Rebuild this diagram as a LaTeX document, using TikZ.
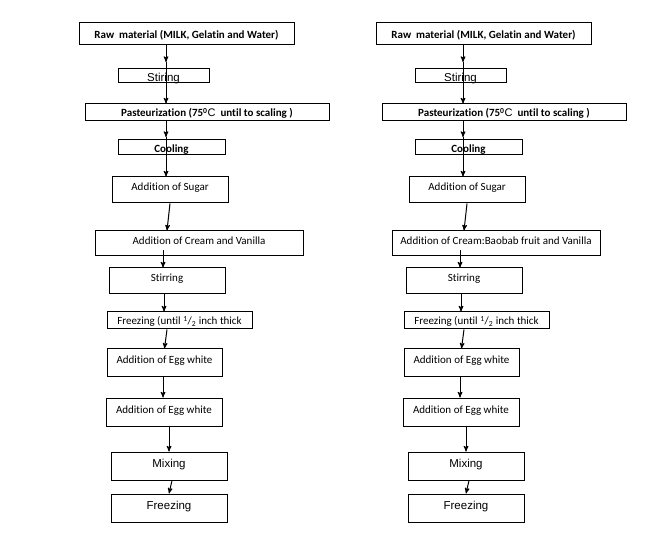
\documentclass[tikz,border=0pt]{standalone}
\usepackage{fontspec}
\setmainfont{Carlito}[Ligatures=NoCommon]
\newfontfamily\arialfont{Liberation Sans}
\usetikzlibrary{arrows}

\begin{document}
\begin{tikzpicture}[
    x = 1pt,
    y = -1pt,
    line width = 1pt,
    >=stealth',
    stepbox/.style = {
      draw,
      rectangle,
      inner sep = 0pt,
      text height = 8pt,
      text depth = 6pt,
      font = \fontsize{11}{13}\selectfont
    },
    bandbox/.style = {stepbox, text height = 9pt, text depth = 0pt},
    lowbox/.style = {stepbox, text height = 11pt, text depth = 0pt},
    sans/.style = {font = \arialfont\fontsize{11.5}{13}\selectfont}
  ]
  \useasboundingbox (0,0) rectangle (669,534);

  \foreach \c/\dx/\creamtext in {l/0/{Addition of Cream and Vanilla},
                                 r/297/{Addition of Cream:Baobab fruit and Vanilla}} {
  \begin{scope}[xshift=\dx]
    \node[bandbox, minimum width=215, minimum height=22] (raw\c)    at (186.5,34)  {\textbf{Raw\ \ material (MILK, Gelatin and Water)}};
    \node[lowbox, sans, minimum width=91, minimum height=14] (stir\c) at (163.5,76)  {Stiring};
    \node[bandbox, minimum width=244, minimum height=17] (past\c)   at (207,112.5) {\textbf{Pasteurization (75\textsuperscript{0}}{\arialfont C}\textbf{\ \ until to scaling )}};
    \node[lowbox, minimum width=107, minimum height=15] (cool\c)    at (171.5,147.5) {\textbf{Cooling}};
    \node[stepbox, minimum width=116, minimum height=26] (sugar\c)  at (170,190)   {Addition of Sugar};
    \node[stepbox, minimum width=208, minimum height=25] (cream\c)  at (199,243.5) {\creamtext};
    \node[stepbox, minimum width=116, minimum height=26] (stirr\c)  at (167,281)   {Stirring};
    \node[bandbox, minimum width=145, minimum height=17] (frz\c)    at (179.5,320.5) {Freezing (until \textsuperscript{1}/\textsubscript{2} inch thick};
    \node[stepbox, minimum width=115, minimum height=27] (egga\c)   at (164.5,362.5) {Addition of Egg white};
    \node[stepbox, minimum width=116, minimum height=28] (eggb\c)   at (164,412)   {Addition of Egg white};
    \node[stepbox, sans, minimum width=116, minimum height=28] (mix\c) at (169,466) {Mixing};
    \node[stepbox, sans, minimum width=116, minimum height=28] (freeze\c) at (169,508) {Freezing};

    % arrows running through the thin boxes
    \coordinate (ka\c) at (166,62);
    \coordinate (kb\c) at (166,137);
    \draw[->] (raw\c.south -| ka\c) -- (ka\c);
    \draw[->] (ka\c) -- (ka\c |- past\c.north);
    \draw[->] (past\c.south -| kb\c) -- (kb\c);
    \draw[->] (kb\c) -- (kb\c |- sugar\c.north);

    \draw[->] (sugar\c.south) -- ([xshift=-32]cream\c.north);
    \draw[->] ([xshift=-36,yshift=6]cream\c.south) -- ([xshift=-4]stirr\c.north);
    \draw[->] ([xshift=-3]stirr\c.south) -- ([xshift=-15.5]frz\c.north);
    \draw[->] ([xshift=-12.5]frz\c.south) -- (egga\c.north);
    \draw[->] ([xshift=-1.5]egga\c.south) -- ([xshift=-1]eggb\c.north);
    \draw[->] (eggb\c.south -| mix\c.north) -- (mix\c.north);
    \draw[->] ([xshift=3]mix\c.south) -- (freeze\c.north);
  \end{scope}
  }
\end{tikzpicture}
\end{document}
